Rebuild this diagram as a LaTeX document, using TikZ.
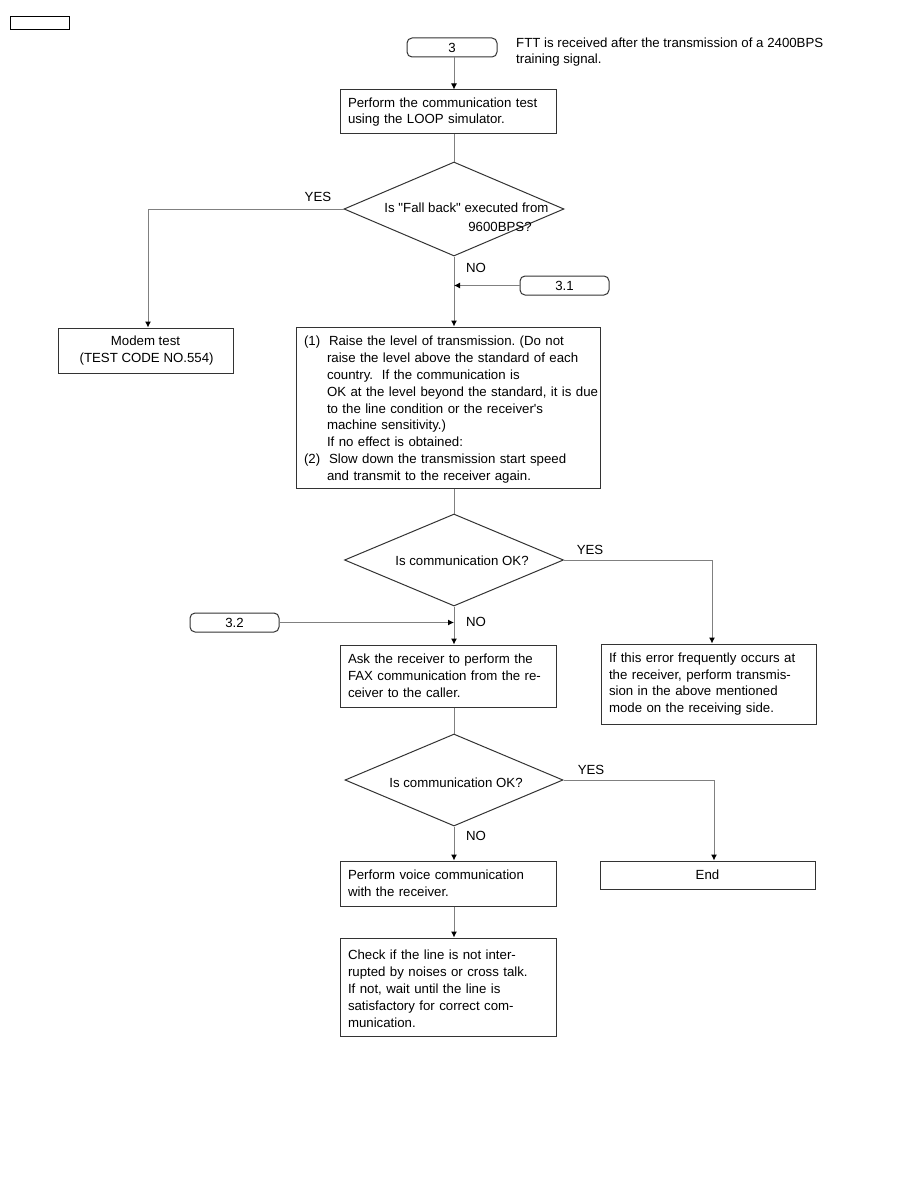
\documentclass[tikz,border=0pt]{standalone}
\usepackage{fontspec}
\setmainfont{Liberation Sans}[Ligatures=TeXOff]
\usetikzlibrary{arrows.meta,shapes.geometric}
\definecolor{boxc}{gray}{0.2}
\definecolor{linec}{gray}{0.5}
\begin{document}
\frenchspacing
\begin{tikzpicture}[x=1pt,y=-1pt,
  every node/.style={font=\fontsize{13.25}{16.8}\selectfont, text=black},
  box/.style={draw=boxc, line width=1pt, rectangle, inner xsep=8pt, inner ysep=0pt, align=left},
  term/.style={draw=boxc, line width=1pt, rectangle, rounded corners=5pt, minimum width=89pt, minimum height=19pt, inner sep=0pt},
  dia/.style={draw=boxc, line width=1pt, diamond, inner sep=0pt},
  lbl/.style={inner sep=0pt},
  conn/.style={draw=linec, line width=1pt},
  arr/.style={conn, -{Latex[length=6pt,width=6pt,black]}}
]
\fill[white] (0,0) rectangle (918,1188);
\useasboundingbox (0,0) rectangle (918,1188);

% tag rectangle top left
\node[draw=black, line width=1pt, minimum width=59pt, minimum height=13pt, inner sep=0pt] (tag) at (39.5,23.5) {};

% start terminal and note
\node[term, minimum width=90pt] (t3) at (452,47.5) {3};
\node[lbl, anchor=west, align=left] (note) at (516,52) {FTT is received after the transmission of a 2400BPS\\training signal.};

\node[box, minimum width=216pt, minimum height=44pt, text width=200pt] (b1) at (448,112)
  {Perform the communication test\\using the LOOP simulator.};

\node[dia, minimum width=220pt, minimum height=94pt] (d1) at (454,209) {};
\node[lbl] (d1a) at (466.5,208) {Is "Fall back" executed from};
\node[lbl] (d1b) at (500,227) {9600BPS?};
\node[lbl] (yes1) at (318,197) {YES};

\node[box, inner xsep=0pt, minimum width=175pt, minimum height=45pt, align=center] (modem) at (145.5,350.5)
  {Modem test\\\,(TEST CODE NO.554)};

\node[lbl] (no1) at (476,268) {NO};
\node[term] (t31) at (564.5,285.5) {3.1};

\node[box, minimum width=304pt, minimum height=161pt, text width=288pt] (b2) at (448,407.5)
  {\rule{0pt}{14pt}\mbox{(1)\ \ Raise the level of transmission. (Do not}\\
   \hspace*{23pt}\mbox{raise the level above the standard of each}\\
   \hspace*{23pt}\mbox{country.\ \ If the communication is}\\
   \hspace*{23pt}\mbox{OK at the level beyond the standard, it is due}\\
   \hspace*{23pt}\mbox{to the line condition or the receiver's}\\
   \hspace*{23pt}\mbox{machine sensitivity.)}\\
   \hspace*{23pt}\mbox{If no effect is obtained:}\\
   \mbox{(2)\ \ Slow down the transmission start speed}\\
   \hspace*{23pt}\mbox{and transmit to the receiver again.}};

\node[dia, minimum width=219pt, minimum height=92pt] (d2) at (454,560) {};
\node[lbl] (d2t) at (462,561) {Is communication OK?};
\node[lbl] (yes2) at (590,550) {YES};

\node[box, minimum width=215pt, minimum height=80pt, text width=199pt] (b4) at (708.5,684)
  {If this error frequently occurs at\\the receiver, perform transmis-\\sion in the above mentioned\\mode on the receiving side.};

\node[term] (t32) at (234.5,622.5) {3.2};
\node[lbl] (no2) at (476,622) {NO};

\node[box, minimum width=216pt, minimum height=62pt, text width=200pt] (b3) at (448,676)
  {Ask the receiver to perform the\\FAX communication from the re-\\ceiver to the caller.};

\node[dia, minimum width=218pt, minimum height=92pt] (d3) at (454,780) {};
\node[lbl] (d3t) at (456,783) {Is communication OK?};
\node[lbl] (yes3) at (591,770) {YES};
\node[lbl] (no3) at (476,836) {NO};

\node[box, minimum width=216pt, minimum height=45pt, text width=200pt] (b5) at (448,883.5)
  {Perform voice communication\\with the receiver.};
\node[box, minimum width=215pt, minimum height=28pt, align=center] (endb) at (707.5,875) {End};

\node[box, minimum width=216pt, minimum height=98pt, text width=200pt] (b6) at (448,987)
  {\rule{0pt}{13pt}Check if the line is not inter-\\rupted by noises or cross talk.\\If not, wait until the line is\\satisfactory for correct com-\\munication.};

% connectors
\draw[arr] (t3.south -| d1.north) -- (b1.north -| d1.north);
\draw[conn] (b1.south -| d1.north) -- (d1.north);
\draw[arr] (d1.west) -| ([xshift=2.5pt]modem.north);
\draw[arr] (d1.south) -- (b2.north -| d1.south);
\draw[arr] (t31.west) -- (t31.west -| d1.south);
\draw[conn] (b2.south -| d2.north) -- (d2.north);
\draw[arr] (d2.east) -| ([xshift=3.5pt]b4.north);
\draw[arr] (t32.east) -- (t32.east -| d2.south);
\draw[arr] (d2.south) -- (b3.north -| d2.south);
\draw[conn] (b3.south -| d3.north) -- (d3.north);
\draw[arr] (d3.east) -| ([xshift=6.5pt]endb.north);
\draw[arr] (d3.south) -- (b5.north -| d3.south);
\draw[arr] (b5.south -| d3.south) -- (b6.north -| d3.south);
\end{tikzpicture}
\end{document}
